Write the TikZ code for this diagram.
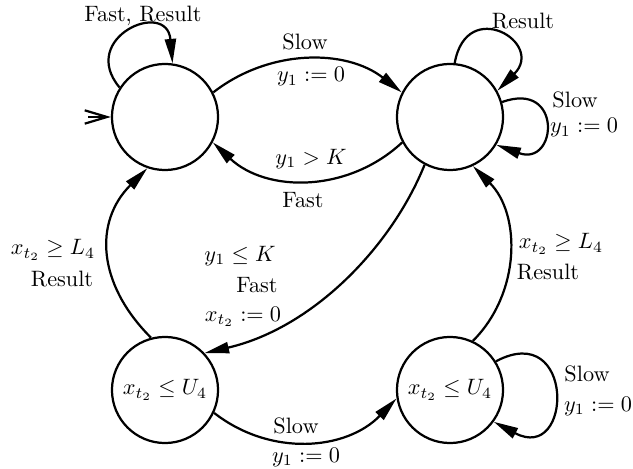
\documentclass[tikz,border=0pt]{standalone}
\usepackage{tikz}
\usetikzlibrary{arrows.meta}

\begin{document}
\begin{tikzpicture}[x=0.0158cm,y=0.0158cm,
  stateNode/.style={circle,draw,line width=1pt,minimum size=1.675cm,inner sep=0pt},
  transArrow/.style={line width=1pt,-{Triangle[length=11pt,width=5pt]}},
  edgeLabel/.style={inner sep=1pt}]
\useasboundingbox (0,0) rectangle (633,-469);

\node[stateNode] (qTopLeft) at (165,-117) {};
\node[stateNode] (qTopRight) at (450,-117) {};
\node[stateNode] (qBotLeft) at (165,-390) {$x_{t_2}\le U_4$};
\node[stateNode] (qBotRight) at (450,-390) {$x_{t_2}\le U_4$};

\coordinate (initTail) at (88,-117);
\draw[line width=1pt,-{Straight Barb[length=10pt,width=6pt]}] (initTail) -- (qTopLeft);

\draw[transArrow] (qTopLeft.147) .. controls +(130:65) and +(95:65) .. (qTopLeft.82);
\node[edgeLabel] (lblLoopTopLeft) at (143,-16) {Fast, Result};

\draw[transArrow] (qTopLeft.27) .. controls +(38:71) and +(142:71) .. (qTopRight.153);
\node[edgeLabel] (lblSlowTop) at (305,-42) {Slow};
\node[edgeLabel] (lblResetTop) at (311,-77) {$y_1 := 0$};

\draw[transArrow] (qTopRight.208) .. controls +(223:74) and +(-43:74) .. (qTopLeft.-28);
\node[edgeLabel] (lblGuardBack) at (311,-159) {$y_1 > K$};
\node[edgeLabel] (lblFastBack) at (303,-200) {Fast};

\draw[transArrow] (qTopRight.85) .. controls +(80:68) and +(45:68) .. (qTopRight.29);
\node[edgeLabel] (lblLoopTopRight) at (523,-21) {Result};

\draw[transArrow] (qTopRight.16) .. controls +(20:65) and +(-20:65) .. (qTopRight.-31);
\node[edgeLabel] (lblSlowRight) at (575,-100) {Slow};
\node[edgeLabel] (lblResetRight) at (584,-128) {$y_1 := 0$};

\draw[transArrow] (qTopRight.242) .. controls +(248:90) and +(13:110) .. (qBotLeft.43);
\node[edgeLabel] (lblGuardDiag) at (240,-256) {$y_1 \le K$};
\node[edgeLabel] (lblFastDiag) at (257,-285) {Fast};
\node[edgeLabel] (lblResetDiag) at (243,-317) {$x_{t_2} := 0$};

\draw[transArrow] (qBotLeft.105) .. controls +(135:76) and +(225:76) .. (qTopLeft.251);
\node[edgeLabel] (lblGuardLeft) at (53,-250) {$x_{t_2} \ge L_4$};
\node[edgeLabel] (lblResultLeft) at (62,-279) {Result};

\draw[transArrow] (qBotLeft.-25) .. controls +(-38:72) and +(226:72) .. (qBotRight.189);
\node[edgeLabel] (lblSlowBottom) at (296,-426) {Slow};
\node[edgeLabel] (lblResetBottom) at (306,-457) {$y_1 := 0$};

\draw[transArrow] (qBotRight.65) .. controls +(45:68) and +(-45:68) .. (qTopRight.-65);
\node[edgeLabel] (lblGuardRight) at (561,-244) {$x_{t_2} \ge L_4$};
\node[edgeLabel] (lblResultRight) at (548,-272) {Result};

\draw[transArrow] (qBotRight.32) .. controls +(28:90) and +(-28:90) .. (qBotRight.-36);
\node[edgeLabel] (lblSlowLoop) at (587,-374) {Slow};
\node[edgeLabel] (lblResetLoop) at (598,-406) {$y_1 := 0$};
\end{tikzpicture}
\end{document}
